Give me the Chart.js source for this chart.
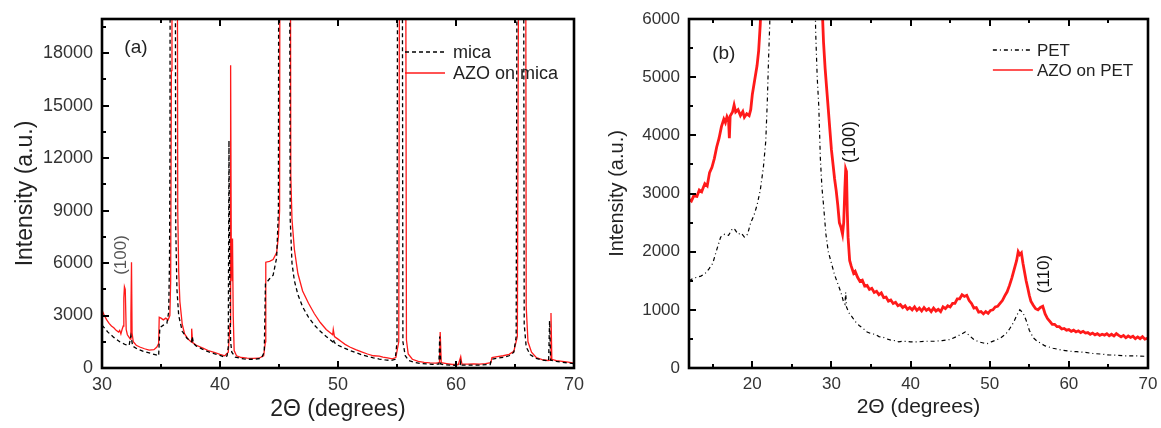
<!DOCTYPE html>
<html>
<head>
<meta charset="utf-8">
<script src="https://cdn.jsdelivr.net/npm/chart.js@4.4.1/dist/chart.umd.min.js"></script>
<style>
  html, body { margin: 0; background: #fff; }
  #wrap { position: relative; width: 1161px; height: 428px; overflow: hidden; }
  canvas { position: absolute; top: 0; }
</style>
</head>
<body>
<div id="wrap">
  <canvas id="chartA" width="600" height="428" style="left:0"></canvas>
  <canvas id="chartB" width="581" height="428" style="left:580px"></canvas>
</div>
<script>
// (a) 2theta / intensity pairs, peaks beyond the frame are cut by the axis
const mica = [[30,2450],[30.5,2050],[31,1750],[31.5,1500],[32,1330],[32.3,1300],[32.45,1850],[32.6,1250],[33,1080],[33.5,950],[34,860],[34.5,760],[34.8,700],[34.9,2300],[35.2,2450],[35.5,2550],[35.65,3200],[35.72,6000],[35.76,12500],[35.8,40000],[36.18,40000],[36.25,8000],[36.35,4500],[36.5,3000],[36.8,2100],[37.2,1700],[37.6,1500],[37.65,1800],[37.75,1400],[38,1250],[38.5,1080],[39,930],[39.5,820],[40,720],[40.4,620],[40.6,700],[40.7,1200],[40.76,13000],[40.82,5500],[40.9,1500],[41,900],[41.3,620],[42,520],[42.5,500],[43,500],[43.5,560],[43.75,900],[43.85,4800],[44.2,5100],[44.5,5300],[44.8,6300],[44.95,9000],[45.0,40000],[45.85,40000],[45.95,8500],[46.1,6000],[46.3,5000],[46.6,4200],[47,3500],[47.5,2900],[48,2450],[48.5,2100],[49,1800],[49.55,1500],[49.6,1650],[49.7,1450],[50,1300],[50.5,1150],[51,1000],[51.5,880],[52,760],[52.5,660],[53,580],[53.5,510],[54,460],[54.5,430],[54.85,500],[55.0,1500],[55.08,40000],[55.42,40000],[55.5,1500],[55.7,700],[56,420],[56.5,320],[57,260],[57.5,230],[58,210],[58.55,220],[58.62,1800],[58.7,230],[59,180],[60,150],[60.35,160],[60.4,350],[60.45,160],[61,160],[62,170],[62.9,200],[63.0,500],[63.5,560],[64,610],[64.5,700],[64.9,900],[65.1,1800],[65.22,40000],[65.7,40000],[65.78,2500],[65.95,1200],[66.3,750],[66.8,550],[67.3,450],[67.85,400],[67.93,2700],[68.02,450],[68.5,380],[69,330],[69.5,290],[70,250]];

const azoMica = [[30,3300],[30.2,3000],[30.4,2750],[30.6,2550],[30.8,2400],[31,2300],[31.2,2150],[31.4,2050],[31.5,2150],[31.6,1950],[31.7,2200],[31.8,2400],[31.85,4000],[31.9,4650],[31.97,4500],[32.05,2200],[32.15,1900],[32.3,1750],[32.4,1650],[32.45,3000],[32.5,6050],[32.55,2000],[32.65,1500],[32.9,1300],[33.2,1200],[33.6,1100],[34,1020],[34.4,1050],[34.65,1200],[34.8,1400],[34.85,2900],[35.0,2850],[35.2,2750],[35.4,2850],[35.6,2750],[35.75,3000],[35.82,5000],[35.88,17000],[35.93,40000],[36.35,40000],[36.42,9000],[36.5,5500],[36.6,3800],[36.8,2500],[37.0,1950],[37.3,1650],[37.55,1500],[37.6,2250],[37.68,1450],[38,1300],[38.5,1150],[39,1000],[39.5,900],[40,780],[40.4,700],[40.7,900],[40.85,2500],[40.9,17300],[40.96,6000],[41.03,5000],[41.06,7400],[41.12,3000],[41.2,1000],[41.4,700],[41.8,600],[42.3,560],[42.8,550],[43.3,560],[43.7,700],[43.85,1500],[43.88,6050],[44.2,6100],[44.5,6200],[44.8,6600],[44.95,7500],[45.05,9000],[45.1,40000],[45.93,40000],[46.0,11000],[46.1,8500],[46.3,6800],[46.6,5400],[47,4400],[47.5,3700],[48,3100],[48.5,2600],[49,2200],[49.55,1900],[49.6,2200],[49.7,1800],[50,1650],[50.3,1500],[50.6,1350],[51,1200],[51.5,1050],[52,920],[52.5,800],[53,700],[53.5,680],[53.8,620],[54.2,580],[54.6,520],[54.9,600],[55.15,1500],[55.25,40000],[55.7,40000],[55.8,1600],[55.95,800],[56.3,500],[56.8,380],[57.3,320],[57.8,290],[58.3,280],[58.6,300],[58.66,2050],[58.75,300],[59.2,250],[59.7,200],[60.2,200],[60.4,650],[60.5,220],[61,220],[61.5,230],[62,220],[62.5,250],[62.95,300],[63.05,600],[63.5,650],[64,700],[64.5,780],[64.9,950],[65.2,1800],[65.38,40000],[65.88,40000],[65.95,3500],[66.1,1500],[66.4,900],[66.8,600],[67.3,480],[67.8,430],[68.0,450],[68.05,3150],[68.12,500],[68.5,420],[69,380],[69.5,330],[70,280]];

// (b)
const pet = [[12,1500],[12.5,1540],[13,1560],[13.5,1580],[14,1620],[14.5,1700],[15,1800],[15.5,2030],[16,2250],[16.5,2300],[17,2280],[17.5,2400],[17.8,2380],[18.2,2300],[18.6,2320],[19,2250],[19.4,2300],[19.8,2500],[20.2,2620],[20.6,2800],[21,3050],[21.4,3450],[21.7,3900],[21.9,4600],[22.05,5300],[22.2,5900],[22.5,8000],[27.8,8000],[28,5800],[28.2,5000],[28.4,4500],[28.6,3600],[28.8,3100],[29,2800],[29.3,2300],[29.6,2000],[30,1800],[30.4,1600],[30.8,1450],[31.2,1300],[31.5,1150],[31.7,1100],[31.8,1300],[31.9,1050],[32.2,950],[32.6,880],[33,800],[33.5,730],[34,680],[34.5,620],[35,590],[35.5,580],[36,540],[36.5,530],[37,500],[37.5,480],[38,470],[38.5,450],[39,460],[40,450],[41,450],[42,460],[43,460],[44,470],[45,490],[45.8,540],[46.4,580],[46.9,620],[47.4,560],[48,490],[48.6,450],[49.2,430],[49.7,420],[50.2,450],[50.8,480],[51.4,520],[52,580],[52.5,670],[53,780],[53.4,900],[53.8,1000],[54.2,950],[54.6,820],[55,650],[55.5,520],[56,460],[56.5,420],[57,380],[58,340],[59,310],[60,290],[61,280],[62,270],[63,250],[64,240],[65,225],[66,220],[67,210],[68,210],[69,205],[70,200]];

const azoPet = [[12,2900],[12.3,2870],[12.6,2960],[13,2950],[13.3,3060],[13.6,3030],[14,3170],[14.3,3130],[14.6,3360],[14.9,3450],[15.2,3600],[15.5,3800],[15.8,3950],[16.1,4150],[16.4,4280],[16.6,4220],[16.8,4320],[17,4260],[17.1,3950],[17.2,4330],[17.5,4400],[17.7,4520],[17.9,4400],[18.2,4440],[18.5,4340],[18.8,4410],[19,4310],[19.3,4370],[19.6,4340],[19.8,4440],[20,4700],[20.3,4950],[20.6,5200],[20.8,5450],[21,5900],[21.2,6500],[22,9000],[28.5,9000],[28.8,6300],[29,5600],[29.2,5150],[29.4,4800],[29.6,4450],[29.8,4100],[30,3750],[30.2,3500],[30.4,3250],[30.6,3050],[30.8,2800],[31,2500],[31.2,2420],[31.4,2300],[31.55,2500],[31.7,3100],[31.8,3420],[31.9,3380],[32,2700],[32.1,2250],[32.3,1850],[32.5,1750],[32.8,1630],[33,1660],[33.3,1560],[33.6,1490],[33.9,1510],[34.2,1410],[34.5,1420],[34.8,1350],[35.1,1370],[35.4,1300],[35.7,1320],[36,1260],[36.3,1290],[36.6,1210],[36.9,1220],[37.2,1150],[37.5,1170],[37.8,1110],[38.1,1130],[38.4,1070],[38.7,1090],[39,1040],[39.3,1070],[39.6,1010],[39.9,1040],[40.2,1000],[40.5,1050],[40.8,990],[41.1,1030],[41.4,980],[41.7,1040],[42,990],[42.3,1020],[42.6,970],[42.9,1030],[43.2,980],[43.5,1010],[43.8,970],[44.1,1050],[44.4,1020],[44.7,1070],[45,1050],[45.3,1110],[45.6,1110],[45.9,1190],[46.2,1190],[46.5,1260],[46.8,1230],[47.1,1250],[47.4,1160],[47.7,1110],[48,1030],[48.3,1040],[48.6,960],[48.9,970],[49.2,930],[49.5,970],[49.8,940],[50.1,990],[50.4,1000],[50.7,1050],[51,1060],[51.3,1110],[51.6,1160],[51.9,1240],[52.2,1310],[52.5,1420],[52.8,1550],[53.1,1700],[53.4,1850],[53.6,2000],[53.8,1950],[54,1980],[54.2,1800],[54.4,1650],[54.6,1500],[54.8,1380],[55,1250],[55.2,1150],[55.5,1080],[55.8,1020],[56.1,1000],[56.4,1040],[56.7,1060],[57,930],[57.3,850],[57.6,800],[57.9,750],[58.2,750],[58.5,710],[58.8,710],[59.1,670],[59.4,680],[59.7,650],[60,660],[60.3,630],[60.6,650],[60.9,620],[61.2,640],[61.5,610],[61.8,630],[62.1,600],[62.4,610],[62.7,580],[63,600],[63.3,570],[63.6,590],[63.9,560],[64.2,580],[64.5,565],[64.8,590],[65.1,555],[65.4,580],[65.7,550],[66,590],[66.3,560],[66.6,535],[66.9,560],[67.2,520],[67.5,550],[67.8,525],[68.1,545],[68.4,505],[68.7,535],[69,505],[69.3,540],[69.6,495],[70,515]];

const ticksXA = [30, 40, 50, 60, 70];
const minorXA = [35, 45, 55, 65];
const ticksYA = [0, 3000, 6000, 9000, 12000, 15000, 18000];
const minorYA = [1500, 4500, 7500, 10500, 13500, 16500, 19500];
const ticksXB = [20, 30, 40, 50, 60, 70];
const minorXB = [15, 25, 35, 45, 55, 65];
const ticksYB = [0, 1000, 2000, 3000, 4000, 5000, 6000];
const minorYB = [500, 1500, 2500, 3500, 4500, 5500];

const FONT = "'Liberation Sans', Arial, sans-serif";
const toXY = arr => arr.map(p => ({ x: p[0], y: p[1] }));

// frame, inward ticks, legend, labels
const framePlugin = {
  id: 'frame',
  afterDraw(chart, args, o) {
    const { ctx, chartArea: a, scales: { x, y } } = chart;
    ctx.save();
    ctx.setLineDash([]);
    ctx.strokeStyle = '#000';
    ctx.lineWidth = 2;
    ctx.beginPath();
    const xt = (v, len) => {
      const px = Math.round(x.getPixelForValue(v));
      ctx.moveTo(px, a.bottom); ctx.lineTo(px, a.bottom - len);
      ctx.moveTo(px, a.top); ctx.lineTo(px, a.top + len);
    };
    const yt = (v, len) => {
      const py = Math.round(y.getPixelForValue(v));
      ctx.moveTo(a.left, py); ctx.lineTo(a.left + len, py);
    };
    o.majorX.forEach(v => xt(v, 7));
    o.minorX.forEach(v => xt(v, 4));
    o.majorY.forEach(v => yt(v, 7));
    o.minorY.forEach(v => yt(v, 4));
    ctx.stroke();
    ctx.lineWidth = 2.6;
    ctx.strokeRect(a.left, a.top, a.right - a.left, a.bottom - a.top);

    // legend
    const lg = o.legend;
    let lx = x.getPixelForValue(lg.x), ly = y.getPixelForValue(lg.y);
    ctx.font = lg.size + 'px ' + FONT;
    ctx.textBaseline = 'middle';
    ctx.textAlign = 'left';
    chart.data.datasets.forEach(ds => {
      ctx.beginPath();
      ctx.strokeStyle = ds.borderColor;
      ctx.lineWidth = 1.4;
      ctx.setLineDash(ds.borderDash || []);
      ctx.moveTo(lx, ly); ctx.lineTo(lx + lg.len, ly);
      ctx.stroke();
      ctx.setLineDash([]);
      ctx.fillStyle = '#222';
      ctx.fillText(ds.label, lx + lg.len + lg.textGap, ly + 1);
      ly += lg.gap;
    });

    // peak labels
    o.notes.forEach(n => {
      ctx.save();
      ctx.translate(x.getPixelForValue(n.x), y.getPixelForValue(n.y));
      if (n.rot) ctx.rotate(-Math.PI / 2);
      ctx.font = n.size + 'px ' + FONT;
      ctx.fillStyle = n.color;
      ctx.textAlign = 'center';
      ctx.textBaseline = 'middle';
      ctx.fillText(n.text, 0, 0);
      ctx.restore();
    });

    // axis titles
    ctx.fillStyle = '#222';
    ctx.textAlign = 'center';
    ctx.textBaseline = 'middle';
    ctx.font = o.xTitle.size + 'px ' + FONT;
    ctx.fillText(o.xTitle.text, (a.left + a.right) / 2, o.xTitle.y);
    ctx.save();
    ctx.translate(o.yTitle.x, (a.top + a.bottom) / 2);
    ctx.rotate(-Math.PI / 2);
    ctx.font = o.yTitle.size + 'px ' + FONT;
    ctx.fillText(o.yTitle.text, 0, 0);
    ctx.restore();
    ctx.restore();
  }
};

function makeChart(id, cfg) {
  return new Chart(document.getElementById(id), {
    type: 'line',
    data: { datasets: cfg.datasets },
    plugins: [framePlugin],
    options: {
      responsive: false,
      animation: false,
      events: [],
      layout: { padding: { left: 0, right: cfg.padRight, top: 19, bottom: 0 } },
      elements: { point: { radius: 0 }, line: { tension: 0 } },
      plugins: {
        legend: { display: false },
        tooltip: { enabled: false },
        frame: cfg.frame
      },
      scales: {
        x: {
          type: 'linear', min: cfg.xMin, max: cfg.xMax,
          afterBuildTicks: s => { s.ticks = cfg.frame.majorX.map(v => ({ value: v })); },
          afterFit: s => { s.height = 60; s.paddingLeft = 0; s.paddingRight = 0; },
          grid: { display: false, drawTicks: false },
          border: { display: false },
          ticks: { color: '#333', font: { family: FONT, size: cfg.tickSize }, padding: 6, maxRotation: 0, autoSkip: false, callback: v => String(v) }
        },
        y: {
          min: 0, max: cfg.yMax,
          afterBuildTicks: s => { s.ticks = cfg.frame.majorY.map(v => ({ value: v })); },
          afterFit: s => { s.width = cfg.yWidth; s.paddingTop = 0; s.paddingBottom = 0; },
          grid: { display: false, drawTicks: false },
          border: { display: false },
          ticks: { color: '#333', font: { family: FONT, size: cfg.tickSize }, padding: 9, autoSkip: false, callback: v => String(v) }
        }
      }
    }
  });
}

makeChart('chartA', {
  xMin: 30, xMax: 70, yMax: 19950,
  yWidth: 102, padRight: 26, tickSize: 18,
  datasets: [
    { label: 'mica', data: toXY(mica), borderColor: '#000', borderWidth: 1.3, borderDash: [4, 3] },
    { label: 'AZO on mica', data: toXY(azoMica), borderColor: '#ff1a1a', borderWidth: 1.3 }
  ],
  frame: {
    majorX: ticksXA, minorX: minorXA, majorY: ticksYA, minorY: minorYA,
    legend: { x: 55.68, y: 18060, gap: 21, len: 40, textGap: 8, size: 18 },
    notes: [
      { text: '(a)', x: 32.88, y: 18300, size: 19, color: '#222' },
      { text: '(100)', x: 31.65, y: 6460, size: 17, color: '#555', rot: true }
    ],
    xTitle: { text: '2Θ (degrees)', y: 410, size: 23 },
    yTitle: { text: 'Intensity (a.u.)', x: 26, size: 23 }
  }
});

makeChart('chartB', {
  xMin: 12, xMax: 70, yMax: 6000,
  yWidth: 109, padRight: 13, tickSize: 17,
  datasets: [
    { label: 'PET', data: toXY(pet), borderColor: '#000', borderWidth: 1.2, borderDash: [4, 3, 1, 3] },
    { label: 'AZO on PET', data: toXY(azoPet), borderColor: '#ff1a1a', borderWidth: 2.8 }
  ],
  frame: {
    majorX: ticksXB, minorX: minorXB, majorY: ticksYB, minorY: minorYB,
    legend: { x: 50.4, y: 5467, gap: 20, len: 40, textGap: 4, size: 17 },
    notes: [
      { text: '(b)', x: 16.4, y: 5400, size: 19, color: '#222' },
      { text: '(100)', x: 32.33, y: 3885, size: 18, color: '#111', rot: true },
      { text: '(110)', x: 56.95, y: 1616, size: 17, color: '#111', rot: true }
    ],
    xTitle: { text: '2Θ (degrees)', y: 407, size: 21 },
    yTitle: { text: 'Intensity (a.u.)', x: 37, size: 20 }
  }
});
</script>
</body>
</html>
